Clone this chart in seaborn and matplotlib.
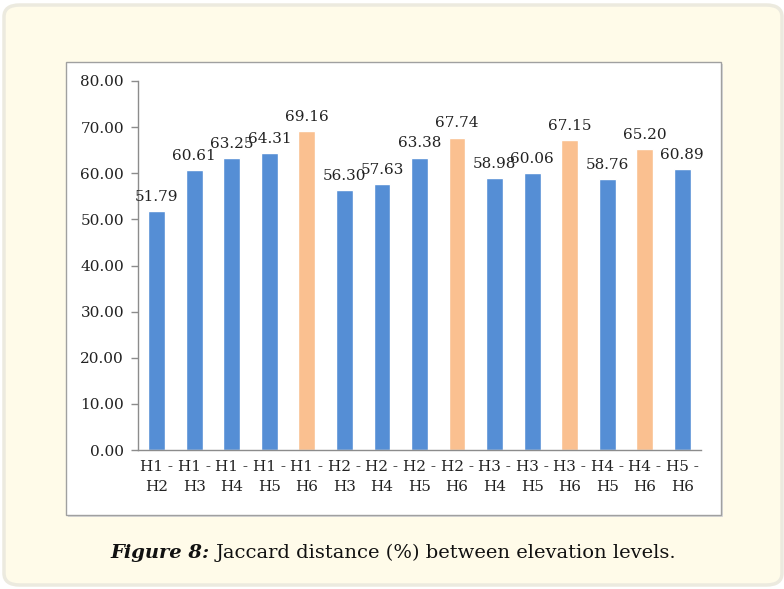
import matplotlib
matplotlib.use("Agg")
import matplotlib.pyplot as plt
from matplotlib.patches import FancyBboxPatch, Rectangle
import seaborn as sns
import pandas as pd
import numpy as np

pairs = ["H1 -\nH2", "H1 -\nH3", "H1 -\nH4", "H1 -\nH5", "H1 -\nH6",
         "H2 -\nH3", "H2 -\nH4", "H2 -\nH5", "H2 -\nH6",
         "H3 -\nH4", "H3 -\nH5", "H3 -\nH6",
         "H4 -\nH5", "H4 -\nH6", "H5 -\nH6"]
distance = [51.79, 60.61, 63.25, 64.31, 69.16,
            56.30, 57.63, 63.38, 67.74,
            58.98, 60.06, 67.15,
            58.76, 65.20, 60.89]
bar_colors = ["#558ED5", "#558ED5", "#558ED5", "#558ED5", "#FAC090",
              "#558ED5", "#558ED5", "#558ED5", "#FAC090",
              "#558ED5", "#558ED5", "#FAC090",
              "#558ED5", "#FAC090", "#558ED5"]
y_ticks = [0, 10, 20, 30, 40, 50, 60, 70, 80]

sns.set_theme(style="white")
plt.rcParams["font.family"] = ["DejaVu Serif"]

W, H = 784, 589
fig = plt.figure(figsize=(W / 100, H / 100), dpi=100)
fig.patch.set_facecolor("white")

# cream card with rounded border
card = FancyBboxPatch((4 / W, 4 / H), 778 / W, 580 / H,
                      boxstyle="round,pad=0,rounding_size=0.02",
                      transform=fig.transFigure, facecolor="#FFFBE9",
                      edgecolor="#ECEADF", linewidth=2.5, zorder=0)
fig.patches.append(card)

# white chart panel with a soft shadow
px0, px1, py0, py1 = 66, 721, 62, 515
shadow = Rectangle(((px0 + 2) / W, 1 - (py1 + 2) / H), (px1 - px0) / W, (py1 - py0) / H,
                   transform=fig.transFigure, facecolor="#DADADA",
                   edgecolor="none", zorder=1)
panel = Rectangle((px0 / W, 1 - py1 / H), (px1 - px0) / W, (py1 - py0) / H,
                  transform=fig.transFigure, facecolor="white",
                  edgecolor="#A0A0A0", linewidth=1.0, zorder=2)
fig.patches.extend([shadow, panel])

ax = fig.add_axes([138 / W, 1 - 450 / H, (701 - 138) / W, (450 - 81) / H])
ax.set_zorder(3)
ax.patch.set_alpha(0)

df = pd.DataFrame({"pair": pairs, "distance": distance})
sns.barplot(data=df, x="pair", y="distance", hue="pair", palette=bar_colors,
            width=0.45, legend=False, ax=ax, saturation=1)

for i, v in enumerate(distance):
    ax.text(i, v + 1.6, f"{v:.2f}", ha="center", va="bottom",
            fontsize=11, color="#222222")

ax.set_ylim(0, 80)
ax.set_xlim(-0.5, len(pairs) - 0.5)
ax.set_yticks(y_ticks)
ax.set_yticklabels([f"{t:.2f}" for t in y_ticks], fontsize=11, color="#222222")
ax.set_xticks(range(len(pairs)))
ax.set_xticklabels(pairs, fontsize=11, color="#222222", linespacing=1.55)
ax.set_xlabel("")
ax.set_ylabel("")

ax.set_xticks(np.arange(-0.5, len(pairs), 1.0), minor=True)
ax.tick_params(axis="x", which="major", length=0, pad=7)
ax.tick_params(axis="x", which="minor", length=5, color="#8C8C8C", width=1, direction="out")
ax.tick_params(axis="y", length=5, color="#8C8C8C", width=1, direction="out", pad=5)
ax.tick_params(axis="y", which="major", left=True)

for side in ["top", "right"]:
    ax.spines[side].set_visible(False)
for side in ["left", "bottom"]:
    ax.spines[side].set_color("#8C8C8C")
    ax.spines[side].set_linewidth(1)

# caption: bold-italic figure number followed by regular text, centred as a whole
cap_y = 1 - 553 / H
t1 = fig.text(0, cap_y, "Figure 8:", fontsize=14, fontweight="bold",
              fontstyle="italic", ha="left", va="center", color="#111111")
t2 = fig.text(0, cap_y, "Jaccard distance (%) between elevation levels.",
              fontsize=14, ha="left", va="center", color="#111111")
fig.canvas.draw()
r = fig.canvas.get_renderer()
w1 = t1.get_window_extent(r).width
w2 = t2.get_window_extent(r).width
gap = 6
total = w1 + gap + w2
x0 = 393 - total / 2
t1.set_x(x0 / W)
t2.set_x((x0 + w1 + gap) / W)

fig.savefig("out.png", dpi=100)
